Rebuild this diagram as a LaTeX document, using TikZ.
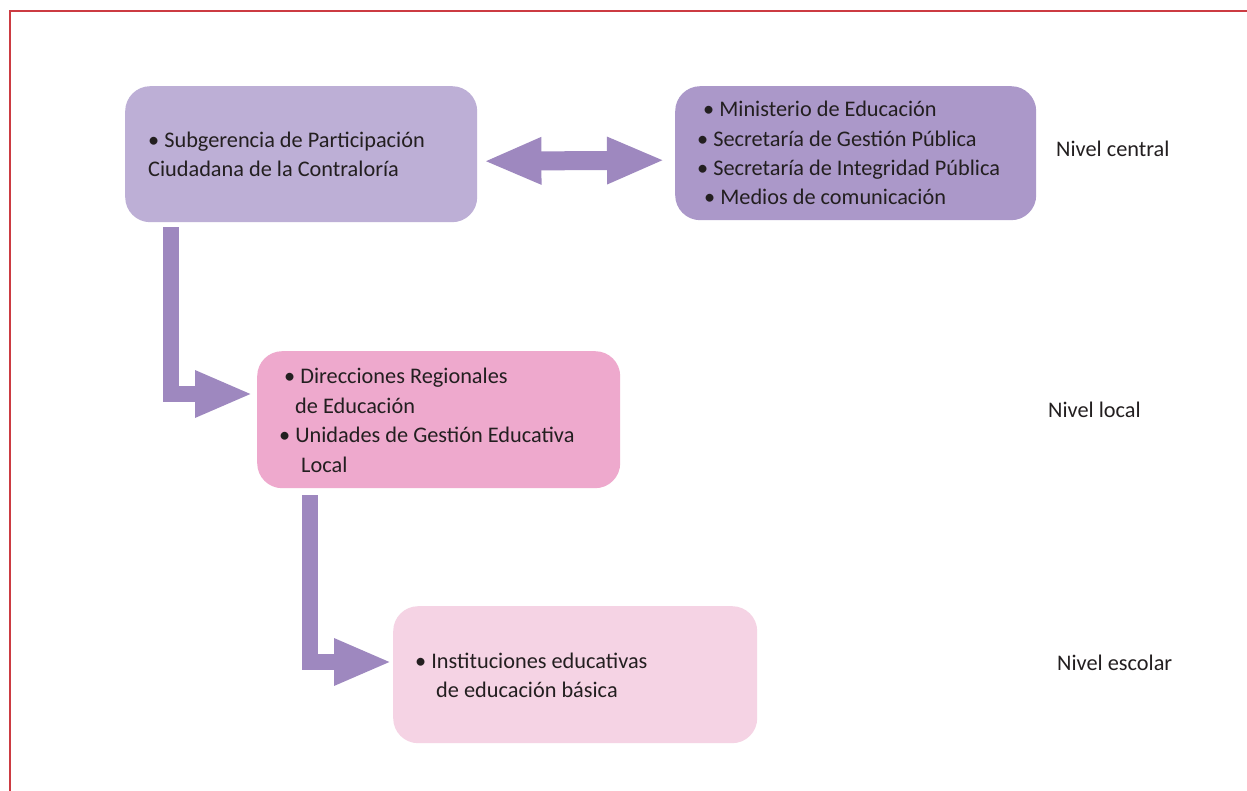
\documentclass[tikz,border=0pt]{standalone}
\usepackage{fontspec}
\setmainfont{Carlito}
\usetikzlibrary{arrows.meta,calc}
\definecolor{boxA}{HTML}{BDAFD6}
\definecolor{boxB}{HTML}{AB98C9}
\definecolor{boxC}{HTML}{EEA9CD}
\definecolor{boxD}{HTML}{F5D3E4}
\definecolor{arrowcol}{HTML}{9E88BF}
\definecolor{bordercol}{HTML}{CC3B42}
\definecolor{txtcol}{HTML}{231F20}
\begin{document}
\begin{tikzpicture}[x=1pt,y=-1pt,
  box/.style={rectangle, rounded corners=25pt, draw=none, inner sep=0pt, anchor=north west},
  txt/.style={anchor=base west, inner sep=0pt, text=txtcol, font=\fontsize{22.3}{27}\selectfont},
  conn/.style={draw=arrowcol, line cap=butt, line join=miter},
  bigtip/.tip={Triangle[length=58pt,width=43pt]},
  borderline/.style={draw=bordercol, line width=1.5pt}
]
\useasboundingbox (0,0) rectangle (1247,791);
\fill[white] (0,0) rectangle (1247,791);
\draw[borderline] (10,791) -- (10,11) -- (1247,11);

% boxes
\node[box, fill=boxA, minimum width=352pt, minimum height=136pt] (A) at (125,86) {};
\node[box, fill=boxB, minimum width=361pt, minimum height=134pt] (B) at (675,86) {};
\node[box, fill=boxC, minimum width=363pt, minimum height=137pt] (C) at (257,351) {};
\node[box, fill=boxD, minimum width=364pt, minimum height=137pt] (D) at (393,606) {};

% texts
\node[txt] (a1) at (148,148) {• Subgerencia de Participación};
\node[txt] (a2) at (148,177) {Ciudadana de la Contraloría};

\node[txt] (b1) at (703,117) {• Ministerio de Educación};
\node[txt] (b2) at (697,147) {• Secretaría de Gestión Pública};
\node[txt] (b3) at (697,176) {• Secretaría de Integridad Pública};
\node[txt] (b4) at (704,205) {• Medios de comunicación};

\node[txt] (c1) at (284,384) {• Direcciones Regionales};
\node[txt] (c2) at (295,413) {de Educación};
\node[txt] (c3) at (279,442) {• Unidades de Gestión Educativa};
\node[txt] (c4) at (301,472) {Local};

\node[txt] (d1) at (415,668) {• Instituciones educativas};
\node[txt] (d2) at (436,697) {de educación básica};

\node[txt] (l1) at (1056,157) {Nivel central};
\node[txt] (l2) at (1048,417) {Nivel local};
\node[txt] (l3) at (1057,670) {Nivel escolar};

% connectors
\draw[conn, line width=19pt, {bigtip}-{bigtip}] ($(A.east)+(6,7)$) -- ($(B.west)+(-10,7)$);
\draw[conn, line width=16pt, -{bigtip}] ($(A.south west)+(46,5)$) |- ($(C.north west)+(-4,43)$);
\draw[conn, line width=16pt, -{bigtip}] ($(C.south west)+(53,7)$) |- ($(D.north west)+(-1,56)$);
\end{tikzpicture}
\end{document}
